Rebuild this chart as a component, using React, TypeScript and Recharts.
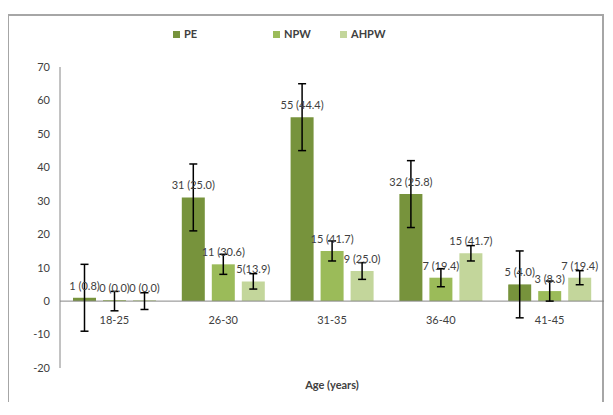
import React from "react";
import {
  BarChart,
  Bar,
  XAxis,
  YAxis,
  Legend,
  ErrorBar,
  LabelList,
  ReferenceLine,
} from "recharts";

const categories = ["18-25", "26-30", "31-35", "36-40", "41-45"];
const seriesNames = ["PE", "NPW", "AHPW"];
const peValues = [1, 31, 55, 32, 5];
const npwValues = [0, 11, 15, 7, 3];
const ahpwValues = [0, 5.9, 9, 14.3, 7];
const peErrors = [10, 10, 10, 10, 10];
const npwErrors = [2.9, 3, 3, 2.7, 3];
const ahpwErrors = [2.5, 2.3, 2.5, 2.3, 2.1];
const peLabels = ["1 (0.8)", "31 (25.0)", "55 (44.4)", "32 (25.8)", "5 (4.0)"];
const npwLabels = ["0 (0.0)", "11 (30.6)", "15 (41.7)", "7 (19.4)", "3 (8.3)"];
const ahpwLabels = ["0 (0.0)", "5(13.9)", "9 (25.0)", "15 (41.7)", "7 (19.4)"];
const yTicks = [-20, -10, 0, 10, 20, 30, 40, 50, 60, 70];

const data = categories.map((name, i) => ({
  name,
  pe: peValues[i],
  npw: npwValues[i],
  ahpw: ahpwValues[i],
  peErr: peErrors[i],
  npwErr: npwErrors[i],
  ahpwErr: ahpwErrors[i],
  peLabel: peLabels[i],
  npwLabel: npwLabels[i],
  ahpwLabel: ahpwLabels[i],
}));

const FONT = "Lato, 'Open Sans', sans-serif";
const TEXT = "#404040";
const AXIS = "#868686";

const W = 597;
const H = 394;
const TOP = 53;
const BOTTOM = 39;
const X_AXIS_H = 1;
const PLOT_H = H - TOP - BOTTOM - X_AXIS_H;
const Y_MIN = -20;
const Y_MAX = 70;
const zeroY = TOP + (PLOT_H * Y_MAX) / (Y_MAX - Y_MIN);

// category labels sit just under the zero line, like Excel's "axis at 0"
const CategoryTick = (props: any) => {
  const { x, payload } = props;
  return (
    <text
      x={x}
      y={zeroY + 23}
      textAnchor="middle"
      fill={TEXT}
      fontSize={11}
      fontFamily={FONT}
    >
      {payload.value}
    </text>
  );
};

// plain text so the labels don't wrap to the bar width
const BarLabel = (props: any) => {
  const { x, y, width, value } = props;
  return (
    <text
      x={x + width / 2}
      y={y - 8}
      textAnchor="middle"
      fill={TEXT}
      fontSize={11}
      fontFamily={FONT}
    >
      {value}
    </text>
  );
};

const itemWidths = [100, 67, 60];

const LegendContent = (props: any) => {
  const payload = [...(props.payload || [])].sort(
    (a: any, b: any) => seriesNames.indexOf(a.value) - seriesNames.indexOf(b.value)
  );
  return (
    <div
      style={{
        height: 40,
        display: "flex",
        alignItems: "flex-start",
        paddingLeft: 166,
        fontFamily: FONT,
        fontSize: 11,
        fontWeight: "bold",
        color: TEXT,
        lineHeight: "14px",
      }}
    >
      {payload.map((p: any, i: number) => (
        <span
          key={p.value}
          style={{
            width: itemWidths[i],
            height: 14,
            display: "flex",
            alignItems: "center",
          }}
        >
          <span
            style={{
              width: 7,
              height: 7,
              background: p.color,
              marginRight: 4,
              display: "inline-block",
            }}
          />
          {p.value}
        </span>
      ))}
    </div>
  );
};

const zeroBarSize = (value: number) => (value === 0 ? 1 : 0);

export default function App() {
  return (
    <div
      style={{
        position: "relative",
        top: 6,
        left: -1,
        width: W,
        height: H,
        boxSizing: "border-box",
        border: "2px solid #a6a6a6",
        background: "#fff",
      }}
    >
      <div style={{ position: "absolute", top: -2, left: -2 }}>
        <BarChart
          width={W}
          height={H}
          data={data}
          margin={{ top: 13, right: 0, bottom: BOTTOM, left: 0 }}
          barSize={23}
          barGap={7}
        >
          <Legend
            verticalAlign="top"
            content={<LegendContent />}
            wrapperStyle={{ top: 13, left: 0, width: W }}
          />
          <XAxis
            dataKey="name"
            height={X_AXIS_H}
            axisLine={false}
            tickLine={false}
            tick={<CategoryTick />}
            interval={0}
            label={{
              value: "Age (years)",
              position: "bottom",
              offset: 12,
              fill: TEXT,
              fontSize: 11,
              fontWeight: "bold",
              fontFamily: FONT,
            }}
          />
          <YAxis
            width={53}
            domain={[Y_MIN, Y_MAX]}
            ticks={yTicks}
            interval={0}
            tickLine={false}
            axisLine={{ stroke: AXIS }}
            tickMargin={4}
            tick={{ fill: TEXT, fontSize: 11, fontFamily: FONT }}
          />
          <ReferenceLine y={0} stroke={AXIS} />
          <Bar dataKey="pe" name="PE" fill="#77933C" isAnimationActive={false}>
            <ErrorBar dataKey="peErr" width={4} stroke="#000" strokeWidth={1.5} />
            <LabelList dataKey="peLabel" content={<BarLabel />} />
          </Bar>
          <Bar
            dataKey="npw"
            name="NPW"
            fill="#9BBB59"
            minPointSize={zeroBarSize}
            isAnimationActive={false}
          >
            <ErrorBar dataKey="npwErr" width={4} stroke="#000" strokeWidth={1.5} />
            <LabelList dataKey="npwLabel" content={<BarLabel />} />
          </Bar>
          <Bar
            dataKey="ahpw"
            name="AHPW"
            fill="#C3D69B"
            minPointSize={zeroBarSize}
            isAnimationActive={false}
          >
            <ErrorBar dataKey="ahpwErr" width={4} stroke="#000" strokeWidth={1.5} />
            <LabelList dataKey="ahpwLabel" content={<BarLabel />} />
          </Bar>
        </BarChart>
      </div>
    </div>
  );
}
